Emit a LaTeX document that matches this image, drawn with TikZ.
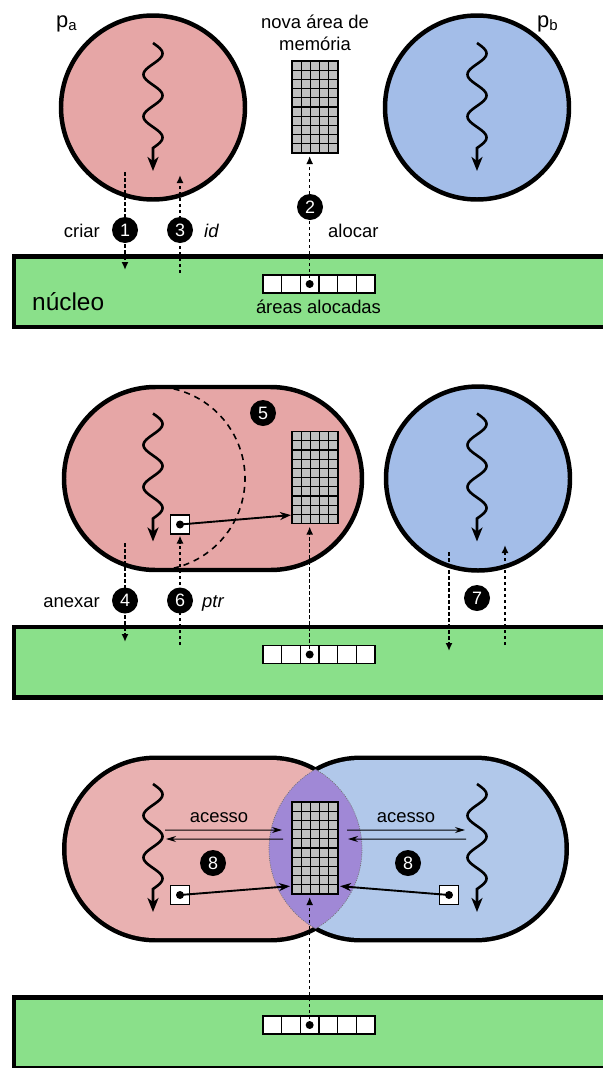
\documentclass[tikz,border=0pt]{standalone}
\usepackage{fontspec}
\setmainfont{Liberation Sans}
\usetikzlibrary{arrows.meta,calc}

\newcommand{\subidx}[1]{\raisebox{-0.3ex}{\fontsize{15}{15}\selectfont #1}}

\begin{document}
\begin{tikzpicture}[x=1bp, y=-1bp,
  lbl/.style={inner sep=0pt, font=\fontsize{18.5}{22}\selectfont},
  badge/.style={circle, fill=black, text=white, inner sep=0pt, outer sep=0pt, minimum size=26bp, font=\fontsize{18}{18}\selectfont},
  syscall/.style={line width=1.6, dash pattern=on 3.5bp off 2.5bp, -{Latex[length=8bp,width=7bp]}},
  pointer/.style={line width=1.9, -{Stealth[length=11bp,width=8bp]}},
  access/.style={line width=1, -{Stealth[length=10bp,width=6bp]}},
  proc/.style={draw=black, line width=4.5},
  kernel/.style={draw=black, line width=4.5, fill=kernelgreen},
  shared border/.style={draw=black!55, line width=0.7, dash pattern=on 1bp off 1.2bp},
  memgrid/.style={draw=black, line width=1.5, fill=gridgray, inner sep=0pt, outer sep=0pt,
    minimum width=46bp, minimum height=92bp,
    path picture={
      \foreach \i in {1,...,4}
        \draw[line width=1.2] ($(path picture bounding box.north west)!\i/5!(path picture bounding box.north east)$)
          -- ($(path picture bounding box.south west)!\i/5!(path picture bounding box.south east)$);
      \foreach \j in {1,...,9}
        \draw[line width=1.2] ($(path picture bounding box.north west)!\j/10!(path picture bounding box.south west)$)
          -- ($(path picture bounding box.north east)!\j/10!(path picture bounding box.south east)$);
    }},
  cellrow/.style={draw=black, line width=1.5, fill=white, inner sep=0pt, outer sep=0pt,
    minimum width=112bp, minimum height=18bp,
    path picture={
      \foreach \i in {1,...,5}
        \draw[line width=1.5] ($(path picture bounding box.north west)!\i/6!(path picture bounding box.north east)$)
          -- ($(path picture bounding box.south west)!\i/6!(path picture bounding box.south east)$);
    }},
  ptrbox/.style={draw=black, line width=1.5, fill=white, inner sep=0pt, outer sep=0pt, minimum size=19bp},
  thread/.pic={
    \draw[line width=2.6, -{Stealth[length=14bp,width=11bp,inset=4bp]}]
      plot[domain=0:900, samples=121] ({9.5*sin(\x)}, {\x/900*105}) -- (0,128);
  }]
  % Define colors
  \definecolor{procpink}{HTML}{E6A6A6}
  \definecolor{procblue}{HTML}{A3BDE8}
  \definecolor{procpinklt}{HTML}{E9B1B1}
  \definecolor{procbluelt}{HTML}{B1C8EA}
  \definecolor{sharedarea}{HTML}{A088D6}
  \definecolor{kernelgreen}{HTML}{8AE08A}
  \definecolor{gridgray}{HTML}{C0C0C0}

  \useasboundingbox (0,0) rectangle (603,1068);
  \clip (0,0) rectangle (603,1068);

  % Step 1: create, allocate, id
  \begin{scope}
    % Kernel
    \draw[kernel] (14,256.5) rectangle (650,327);
    \node[cellrow] (a1) at (319,284) {};
    \coordinate (a1dot) at ($(a1.west)!2.5/6!(a1.east)$);
    \fill (a1dot) circle (4);
    \node[lbl, anchor=base west, font=\fontsize{24.5}{28}\selectfont] (k1) at (32,310) {núcleo};
    \node[lbl, anchor=base] (l1) at (318.5,313) {áreas alocadas};

    % Processes
    \draw[proc, fill=procpink] (153,107.5) circle (92);
    \draw[proc, fill=procblue] (477,107.5) circle (92);
    \pic at (153,43) {thread};
    \pic at (477,43) {thread};
    \node[lbl, anchor=base west, font=\fontsize{22}{24}\selectfont] (pa) at (56,27) {p\subidx{a}};
    \node[lbl, anchor=base west, font=\fontsize{22}{24}\selectfont] (pb) at (537,27) {p\subidx{b}};

    % New memory area
    \node[memgrid] (g1) at (315,107) {};
    \node[lbl, anchor=base] (m1) at (315,28) {nova área de};
    \node[lbl, anchor=base] (m2) at (315,50) {memória};

    % System calls
    \coordinate (c1s) at (125,172);
    \coordinate (c1e) at (125,270);
    \coordinate (c3s) at (180,273);
    \coordinate (c3e) at (180,175);
    \draw[syscall] (c1s) -- (c1e);
    \draw[syscall] (c3s) -- (c3e);
    \draw[syscall, shorten >=3bp] (a1dot) -- (a1dot |- g1.south);

    \node[badge] (n1) at (125,230) {1};
    \node[badge] (n3) at (180,230) {3};
    \node[badge] (n2) at (310,207) {2};
    \node[lbl, anchor=base east] (t1) at (100,237) {criar};
    \node[lbl, anchor=base west, font=\fontsize{18.5}{22}\selectfont\itshape] (t3) at (204,237) {id};
    \node[lbl, anchor=base west] (t2) at (328,237) {alocar};
  \end{scope}

  % Step 2: attach, pointer, id to p_b
  \begin{scope}[shift={(0,370.5)}]
    % Kernel
    \draw[kernel] (14,256.5) rectangle (650,327);
    \node[cellrow] (a2) at (319,284) {};
    \coordinate (a2dot) at ($(a2.west)!2.5/6!(a2.east)$);
    \fill (a2dot) circle (4);

    % Processes
    \draw[proc, fill=procpink] (155.5,16.5) -- (270.5,16.5) arc[start angle=-90, end angle=90, radius=91.5]
      -- (155.5,199.5) arc[start angle=90, end angle=270, radius=91.5] -- cycle;
    \draw[proc, fill=procblue] (478,108) circle (92);
    \draw[line width=1.6, dash pattern=on 6bp off 5bp] ([shift={(-77:92)}]153,108) arc[start angle=-77, end angle=77, radius=92];
    \pic at (153,43) {thread};
    \pic at (477,43) {thread};

    % Attached memory and pointer
    \node[memgrid] (g2) at (315,107) {};
    \node[ptrbox] (b2) at (180,154) {};
    \fill (b2.center) circle (4);
    \coordinate (g2in) at ($(g2.south west)+(0,-8.5)$);
    \draw[pointer, shorten >=1bp] (b2.center) -- (g2in);

    % System calls
    \coordinate (c4s) at (125,172.5);
    \coordinate (c4e) at (125,271.5);
    \coordinate (c6s) at (180,274.5);
    \coordinate (c7s) at (449,181.5);
    \coordinate (c7e) at (449,280.5);
    \coordinate (c7bs) at (505,274.5);
    \coordinate (c7be) at (505,174.5);
    \draw[syscall] (c4s) -- (c4e);
    \draw[syscall, shorten >=1.5bp] (c6s) -- (b2.south);
    \draw[syscall, shorten >=3bp] (a2dot) -- (a2dot |- g2.south);
    \draw[syscall] (c7s) -- (c7e);
    \draw[syscall] (c7bs) -- (c7be);

    \node[badge] (n4) at (125,230) {4};
    \node[badge] (n6) at (180,230) {6};
    \node[badge] (n5) at (263,42.5) {5};
    \node[badge] (n7) at (477,227.5) {7};
    \node[lbl, anchor=base east] (t4) at (100,237) {anexar};
    \node[lbl, anchor=base west, font=\fontsize{18.5}{22}\selectfont\itshape] (t6) at (202,237) {ptr};
  \end{scope}

  % Step 3: shared access
  \begin{scope}[shift={(0,741)}]
    % Kernel
    \draw[kernel] (14,256.5) rectangle (650,327);
    \node[cellrow] (a3) at (319,284) {};
    \coordinate (a3dot) at ($(a3.west)!2.5/6!(a3.east)$);
    \fill (a3dot) circle (4);

    % Processes sharing one area
    \def\stadA{(155.5,19) -- (270.5,19) arc[start angle=-90, end angle=90, radius=89]
      -- (155.5,197) arc[start angle=90, end angle=270, radius=89] -- cycle}
    \def\stadB{(360.5,19) -- (475.5,19) arc[start angle=-90, end angle=90, radius=89]
      -- (360.5,197) arc[start angle=90, end angle=270, radius=89] -- cycle}
    \def\lensA{(155.5,16.5) -- (270.5,16.5) arc[start angle=-90, end angle=90, radius=91.5]
      -- (155.5,199.5) arc[start angle=90, end angle=270, radius=91.5] -- cycle}
    \def\lensB{(360.5,16.5) -- (475.5,16.5) arc[start angle=-90, end angle=90, radius=91.5]
      -- (360.5,199.5) arc[start angle=90, end angle=270, radius=91.5] -- cycle}
    \draw[line width=9] \stadA;
    \draw[line width=9] \stadB;
    \fill[procpinklt] \stadA;
    \fill[procbluelt] \stadB;
    \begin{scope}
      \clip \lensA;
      \fill[sharedarea] \lensB;
      \draw[shared border] \lensB;
    \end{scope}
    \begin{scope}
      \clip \lensB;
      \draw[shared border] \lensA;
    \end{scope}
    \pic at (153,43) {thread};
    \pic at (477,43) {thread};

    % Shared memory and pointers
    \node[memgrid] (g3) at (315,107) {};
    \node[ptrbox] (b3a) at (180,154) {};
    \node[ptrbox] (b3b) at (449,154) {};
    \fill (b3a.center) circle (4);
    \fill (b3b.center) circle (4);
    \coordinate (g3inA) at ($(g3.south west)+(0,-8)$);
    \coordinate (g3inB) at ($(g3.south east)+(0,-8)$);
    \draw[pointer, shorten >=2bp] (b3a.center) -- (g3inA);
    \draw[pointer, shorten >=2bp] (b3b.center) -- (g3inB);

    % Accesses
    \coordinate (thA1) at (165,89);
    \coordinate (thA2) at (166,98);
    \coordinate (thB1) at (465,89);
    \coordinate (thB2) at (466,98);
    \coordinate (gA1) at ($(g3.north west)+(-10,28)$);
    \coordinate (gA2) at ($(g3.north west)+(-9,37)$);
    \coordinate (gB1) at ($(g3.north east)+(9,28)$);
    \coordinate (gB2) at ($(g3.north east)+(10,37)$);
    \draw[access] (thA1) -- (gA1);
    \draw[access] (gA2) -- (thA2);
    \draw[access] (gB1) -- (thB1);
    \draw[access] (thB2) -- (gB2);
    \node[lbl, anchor=base] (t8a) at (219,81) {acesso};
    \node[lbl, anchor=base] (t8b) at (406,81) {acesso};
    \node[badge] (n8a) at (213,122) {8};
    \node[badge] (n8b) at (408,122) {8};

    % System call
    \draw[syscall, shorten >=3bp] (a3dot) -- (a3dot |- g3.south);
  \end{scope}
\end{tikzpicture}
\end{document}
